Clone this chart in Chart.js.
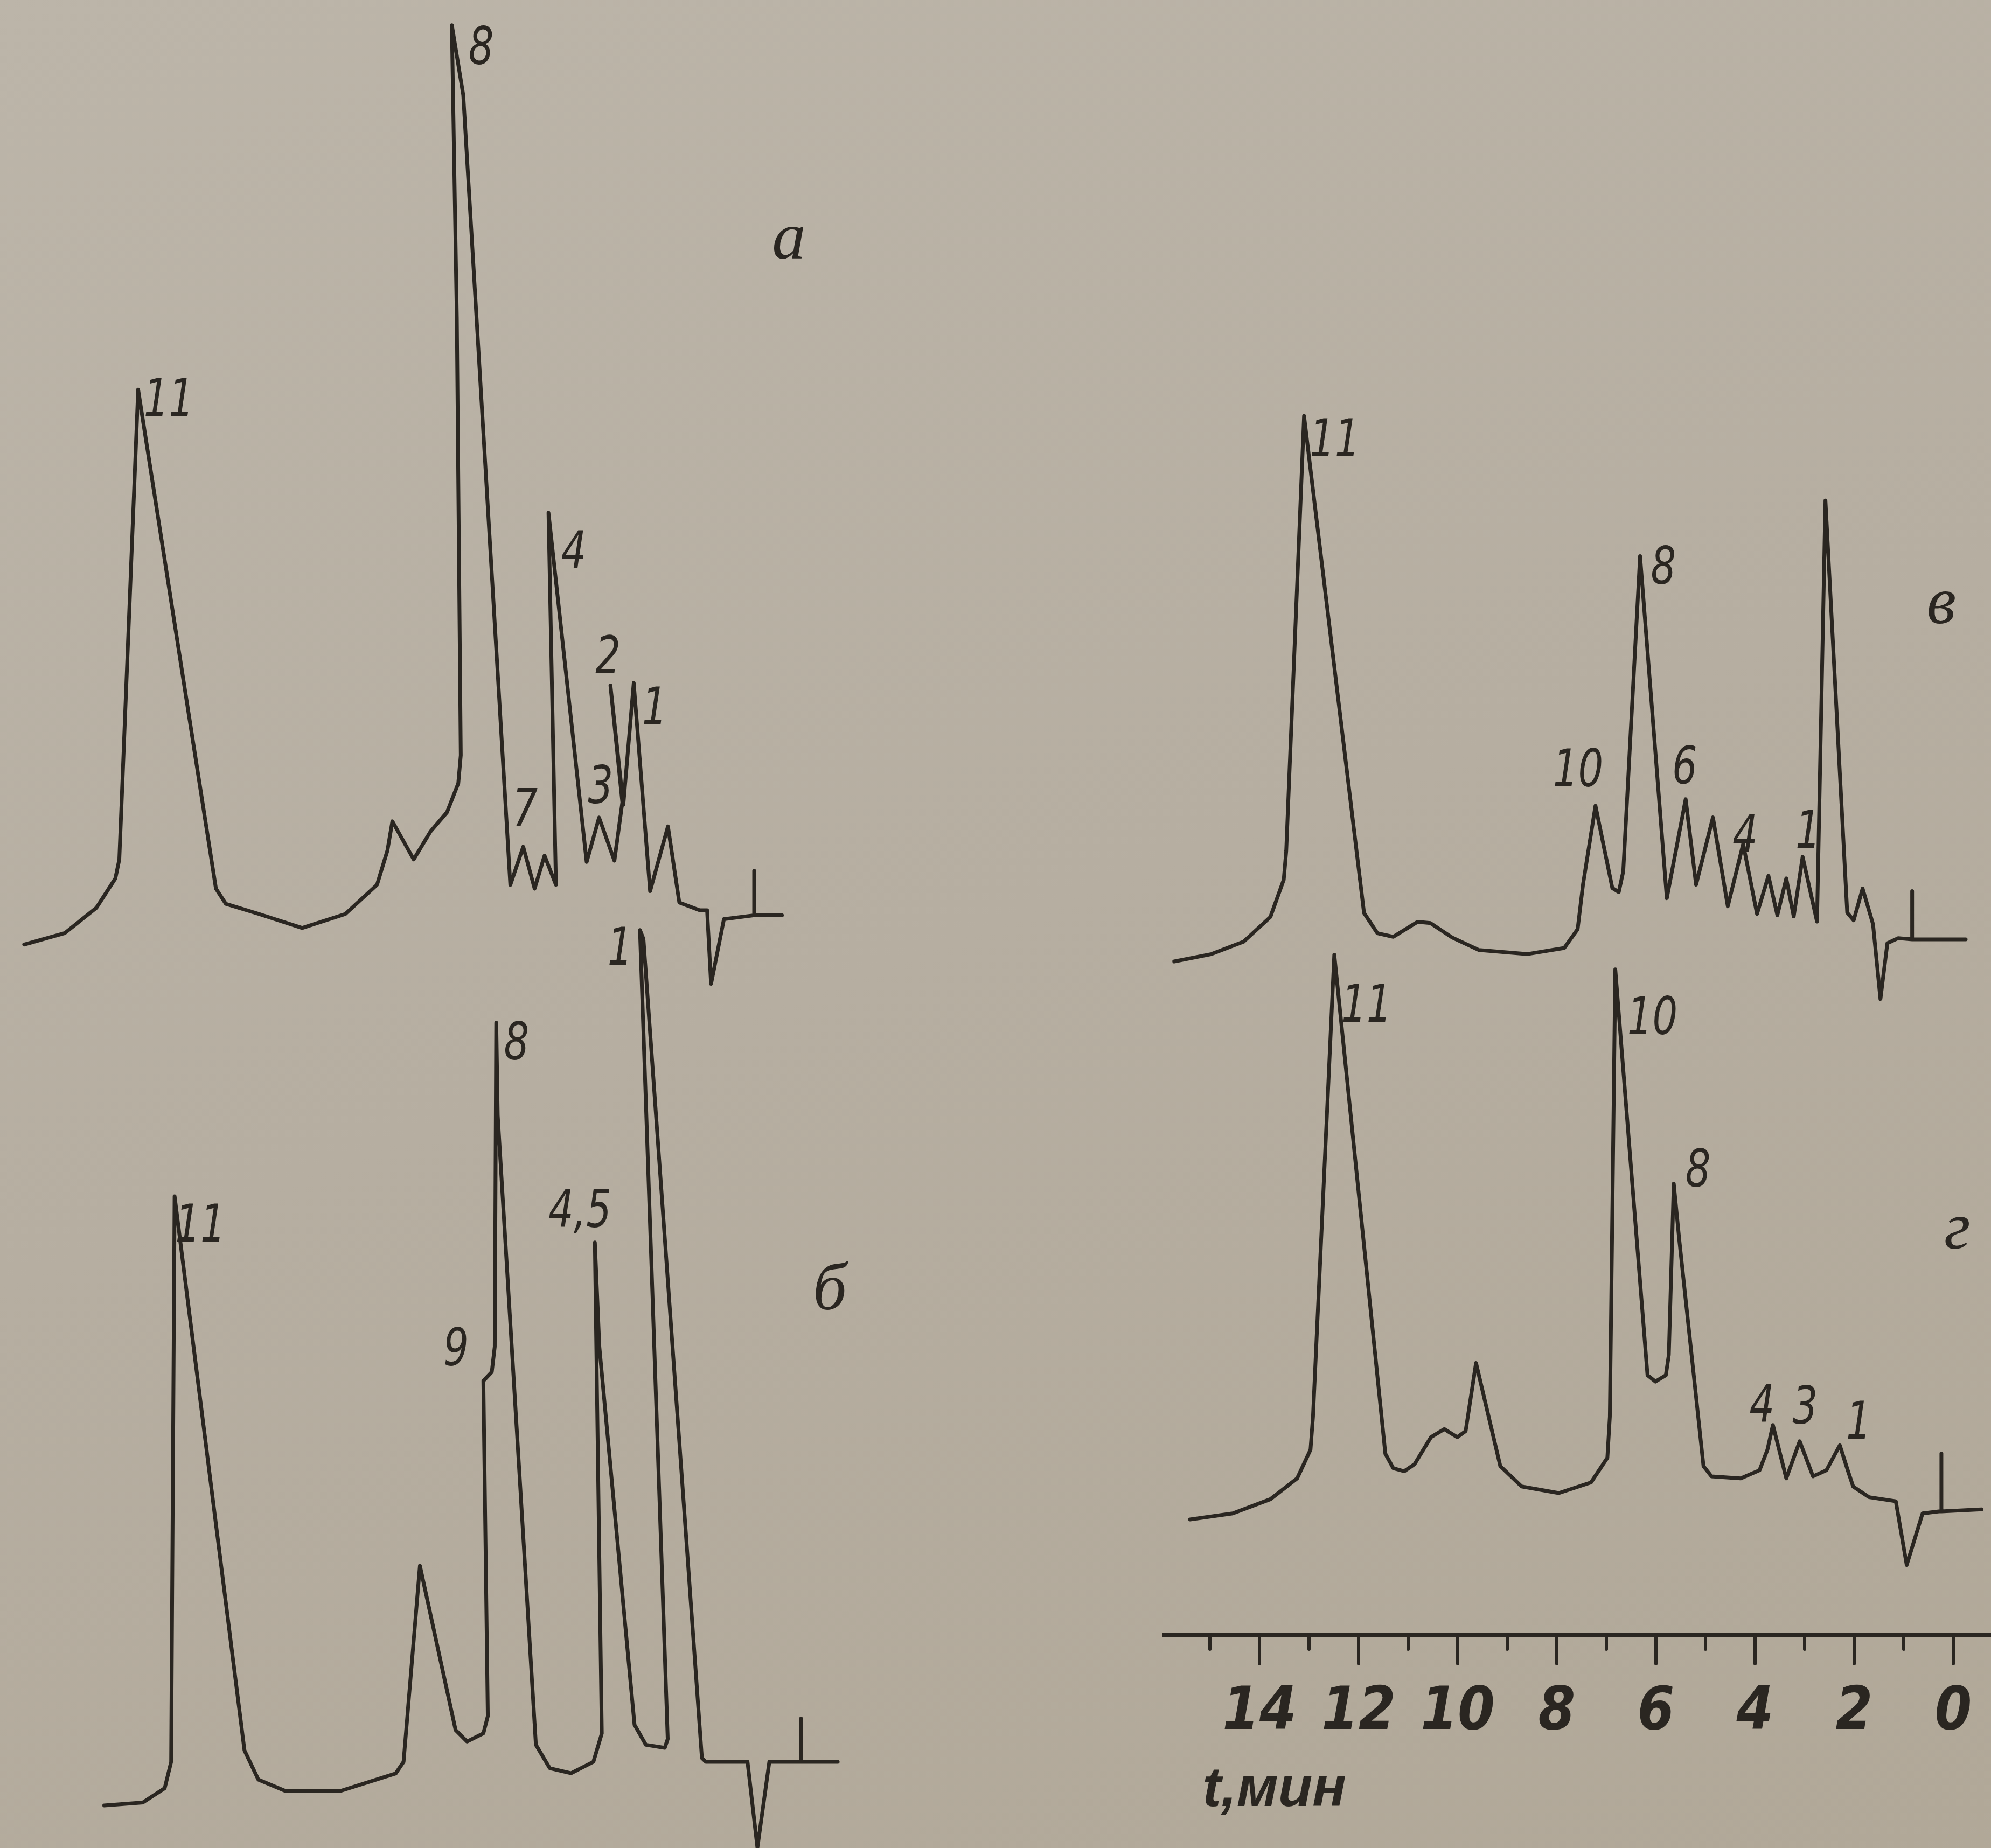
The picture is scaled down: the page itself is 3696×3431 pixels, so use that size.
<!DOCTYPE html>
<html>
<head>
<meta charset="utf-8">
<script src="https://cdn.jsdelivr.net/npm/chart.js@4.4.0/dist/chart.umd.min.js"></script>
<style>
html,body{margin:0;padding:0;}
body{width:3696px;height:3431px;position:relative;overflow:hidden;
background:linear-gradient(160deg,#bcb5a9 0%,#b6aea1 50%,#b1a898 100%);}
canvas{position:absolute;}
</style>
</head>
<body>
<canvas id="chA"></canvas>
<canvas id="chB"></canvas>
<canvas id="chV"></canvas>
<canvas id="chG"></canvas>
<script>
// chromatogram a (time, min / detector signal, arb. units)
const aTime=[14.73,13.91,13.27,12.89,12.81,12.43,10.86,10.66,9.99,9.12,8.25,7.61,7.40,7.30,6.87,6.53,6.20,5.97,5.92,6.00,6.10,5.87,4.92,4.66,4.43,4.23,4.00,4.15,3.38,3.13,2.82,2.66,2.90,2.64,2.43,2.10,1.74,1.51,1.10,0.95,0.87,0.61,0,0,0,-0.56];
const aSignal=[-6,-3.75,1.25,7,10.75,103.25,5,2,0,-2.75,0,5.75,12.5,18.25,10.75,16.25,20,25.75,31.25,117.5,175,161.25,5.75,13.25,5,11.5,5.75,79,10.25,19,10.5,22,45,21.5,45.5,4.5,17.25,2.25,0.75,0.75,-13.75,-1,-0.25,8.5,-0.25,-0.25];

// chromatogram б
const bTime=[14.06,13.28,12.84,12.71,12.64,11.23,10.95,10.40,9.30,8.18,8.02,7.69,6.97,6.74,6.41,6.32,6.41,6.24,6.18,6.15,6.12,5.35,5.07,4.64,4.19,4.02,4.16,4.07,3.36,3.13,2.75,2.69,3.25,3.18,2.00,1.92,1.08,0.88,0.64,0,0,0,-0.74];
const bSignal=[-8.6,-8,-5.2,0,111.35,2.25,-3.5,-5.75,-5.75,-2.3,0,38.6,6.25,4,5.6,9,75,76.75,81.75,145.5,127.25,3.35,-1.25,-2.25,0,5.6,102.25,81.75,7.3,3.35,2.75,4.5,163.75,162,0.75,0,0,-16.9,0,0,8.5,0,0];

// chromatogram в
const vTime=[15.72,14.97,14.32,13.78,13.51,13.46,13.10,11.89,11.62,11.30,10.81,10.55,10.11,9.57,8.60,7.85,7.58,7.47,7.22,6.88,6.75,6.66,6.32,5.78,5.40,5.19,4.85,4.55,4.24,3.96,3.73,3.55,3.37,3.22,3.04,2.75,2.58,2.14,2.01,1.83,1.62,1.47,1.33,1.11,0.83,0.83,0.83,-0.25];
const vSignal=[-4.35,-2.9,-0.45,4.4,11.75,17.4,103.05,5.2,1.2,0.5,3.45,3.2,0.35,-2.1,-2.9,-1.7,2,10.9,26.3,10.1,9.3,13.35,75.45,8.1,27.6,10.75,24,6.5,18.75,5,12.5,4.75,12,4.5,16.25,3.5,86.4,5.25,3.75,10,3,-11.75,-0.75,0.25,0,9.5,0,0];

// chromatogram г
const gTime=[15.40,14.54,13.78,13.24,12.97,12.92,12.49,11.46,11.30,11.08,10.87,10.54,10.27,10.01,9.84,9.63,9.14,8.71,7.96,7.31,6.98,6.93,6.82,6.17,6.01,5.80,5.74,5.64,5.53,5.04,4.88,4.29,3.91,3.75,3.64,3.37,3.10,2.83,2.56,2.29,2.13,2.02,1.70,1.16,0.94,0.62,0.29,0.24,0.24,0.24,-0.57];
const gSignal=[-1.6,-0.4,2.4,6.5,12.15,18.65,109.6,11.35,8.5,7.9,9.3,14.6,16.2,14.6,15.8,29.2,8.9,4.9,3.6,5.7,10.55,18.65,106.7,26.8,25.55,26.8,30.8,64.5,53.55,8.9,6.9,6.5,8.1,12.15,17,6.5,13.8,6.9,8.1,13,8.1,4.9,2.8,2,-10.55,-0.4,0,0,11.4,0,0.4];

// peak numbers and where they are written
const aPeakNames=['11','8','7','4','3','2','1'];
const aPeakTimes=[11.81,5.51,4.62,3.64,3.10,2.95,2.01];
const aPeakSignals=[100.75,170,20,70.75,24.5,50,40];
const bPeakNames=['11','9','8','4,5','1'];
const bPeakTimes=[12.12,6.96,5.74,4.46,3.65];
const bPeakSignals=[105.1,80.65,140.9,107.95,159.6];
const vPeakNames=['11','10','8','6','4','1'];
const vPeakTimes=[12.48,7.57,5.85,5.42,4.20,2.93];
const vPeakSignals=[97.75,32.8,72.6,33.25,19.85,20.65];
const gPeakNames=['11','10','8','4','3','1'];
const gPeakTimes=[11.84,6.07,5.15,3.86,2.99,1.91];
const gPeakSignals=[99.0,96.6,66.55,20.3,19.9,17.0];

const panelNames=['а','б','в','г'];
const panelTimes=[-0.70,-0.58,0.24,-0.08];
const panelSignals=[132.5,92.6,65.7,55.2];

// time axis
const xTickValues=[0,2,4,6,8,10,12,14];
const xTickLabels=['0','2','4','6','8','10','12','14'];
const xMinorValues=[1,3,5,7,9,11,13,15];
const xTitle='t,мин';

const INK='#2a2621';
const PX_PER_MIN=92;
const PX_PER_UNIT=9.43;
const AXIS_H=396;

Chart.defaults.color=INK;

function labelPlugin(names,times,signals,panel){
  return {
    id:'peakLabels',
    afterDatasetsDraw(chart){
      const ctx=chart.ctx, xs=chart.scales.x, ys=chart.scales.y;
      ctx.save();
      ctx.fillStyle=INK;
      ctx.textAlign='center';
      ctx.textBaseline='middle';
      names.forEach((n,i)=>{
        ctx.save();
        ctx.translate(xs.getPixelForValue(times[i]),ys.getPixelForValue(signals[i]));
        ctx.scale(0.85,1);
        ctx.font='italic 96px "Liberation Sans Narrow", "DejaVu Sans Condensed", sans-serif';
        ctx.fillText(n,0,0);
        ctx.restore();
      });
      ctx.font='italic 125px "Liberation Serif", "DejaVu Serif", serif';
      ctx.fillText(panelNames[panel],xs.getPixelForValue(panelTimes[panel]),ys.getPixelForValue(panelSignals[panel]));
      ctx.restore();
    }
  };
}

const axisPlugin={
  id:'timeAxis',
  afterDraw(chart){
    const ctx=chart.ctx, xs=chart.scales.x;
    ctx.save();
    ctx.strokeStyle=INK;
    ctx.lineWidth=6;
    ctx.lineCap='round';
    xTickValues.concat(xMinorValues).forEach(v=>{
      const px=xs.getPixelForValue(v);
      ctx.beginPath();
      ctx.moveTo(px,xs.top);
      ctx.lineTo(px,xs.top+(v%2===0?54:27));
      ctx.stroke();
    });
    ctx.fillStyle=INK;
    ctx.textAlign='left';
    ctx.textBaseline='alphabetic';
    ctx.font='italic bold 104px "Liberation Sans", "DejaVu Sans", sans-serif';
    ctx.fillText(xTitle,xs.getPixelForValue(15.15),xs.top+318);
    ctx.restore();
  }
};

function makeChart(id,p){
  const cv=document.getElementById(id);
  cv.width=p.width; cv.height=p.height;
  cv.style.left=p.left+'px'; cv.style.top=p.top+'px';
  const areaH=p.height-(p.axis?AXIS_H:0);
  const xMax=(p.zeroX-p.left)/PX_PER_MIN;
  const xMin=xMax-p.width/PX_PER_MIN;
  const yMax=(p.zeroY-p.top)/PX_PER_UNIT;
  const yMin=yMax-areaH/PX_PER_UNIT;
  const plugins=[labelPlugin(p.names,p.peakT,p.peakS,p.panel)];
  const xScale={type:'linear',reverse:true,min:xMin,max:xMax,display:false};
  if(p.axis){
    plugins.push(axisPlugin);
    Object.assign(xScale,{
      display:true,
      grid:{display:false,drawTicks:false},
      border:{display:true,color:INK,width:8},
      afterBuildTicks:s=>{s.ticks=xTickValues.map(v=>({value:v}));},
      afterFit:s=>{s.height=AXIS_H;},
      ticks:{autoSkip:false,maxRotation:0,minRotation:0,padding:80,color:INK,
        font:{family:'"Liberation Sans Narrow", "DejaVu Sans Condensed", sans-serif',style:'italic',weight:'bold',size:110},
        callback:(v,i)=>xTickLabels[i]}
    });
  }
  return new Chart(cv,{
    type:'line',
    data:{datasets:[{
      data:p.times.map((t,i)=>({x:t,y:p.signal[i]})),
      borderColor:INK,borderWidth:7,pointRadius:0,tension:0,fill:false,clip:false,
      borderJoinStyle:'round',borderCapStyle:'round'
    }]},
    options:{
      responsive:false,animation:false,devicePixelRatio:1,
      layout:{padding:0},
      plugins:{legend:{display:false},tooltip:{enabled:false}},
      scales:{
        x:xScale,
        y:{type:'linear',min:yMin,max:yMax,display:false}
      }
    },
    plugins:plugins
  });
}

makeChart('chA',{left:0,top:0,width:1600,height:1900,zeroX:1400,zeroY:1697,
  times:aTime,signal:aSignal,names:aPeakNames,peakT:aPeakTimes,peakS:aPeakSignals,panel:0});
makeChart('chB',{left:0,top:1700,width:1600,height:1731,zeroX:1487,zeroY:3271,
  times:bTime,signal:bSignal,names:bPeakNames,peakT:bPeakTimes,peakS:bPeakSignals,panel:1});
makeChart('chV',{left:2157,top:600,width:1539,height:1400,zeroX:3626,zeroY:1744,
  times:vTime,signal:vSignal,names:vPeakNames,peakT:vPeakTimes,peakS:vPeakSignals,panel:2});
makeChart('chG',{left:2157,top:1700,width:1539,height:1731,zeroX:3626,zeroY:2806,axis:true,
  times:gTime,signal:gSignal,names:gPeakNames,peakT:gPeakTimes,peakS:gPeakSignals,panel:3});
</script>
</body>
</html>
